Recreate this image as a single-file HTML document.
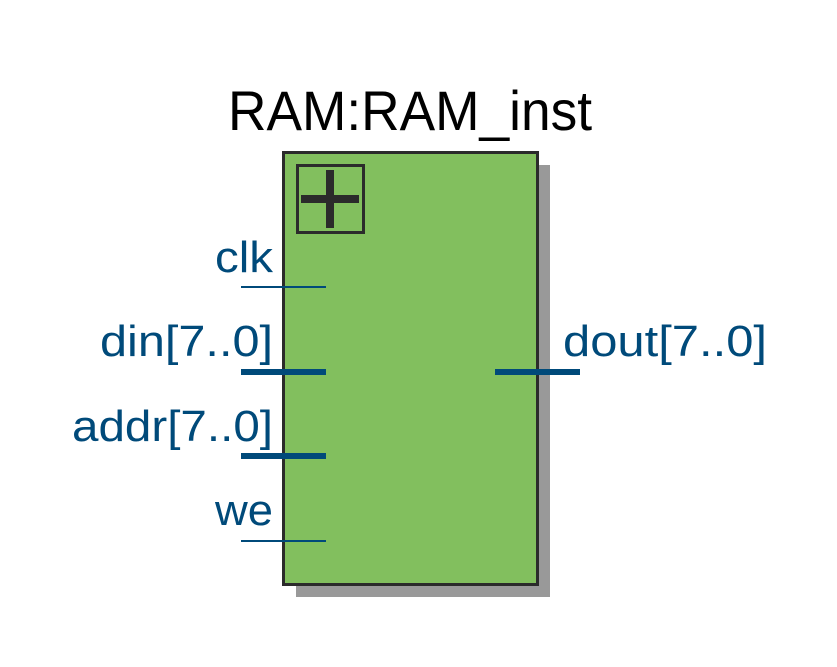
<!DOCTYPE html>
<html><head><meta charset="utf-8"><style>html,body{margin:0;padding:0;background:#fff;}svg{display:block}</style></head>
<body>
<svg width="837" height="667" viewBox="0 0 837 667" xmlns="http://www.w3.org/2000/svg">
<rect x="296" y="165" width="254" height="432" fill="#999999"/>
<rect x="283.5" y="152.5" width="254" height="432" fill="#82bf5e" stroke="#2b2b2b" stroke-width="3"/>
<rect x="297.5" y="165.5" width="66" height="67" fill="none" stroke="#2b2b2b" stroke-width="3"/>
<rect x="301" y="195" width="58" height="8" fill="#2b2b2b"/>
<rect x="326" y="170" width="8" height="58" fill="#2b2b2b"/>
<text x="410" y="130" font-family="Liberation Sans, sans-serif" font-size="56" text-anchor="middle" textLength="364" lengthAdjust="spacingAndGlyphs" fill="#000">RAM:RAM_inst</text>
<g font-family="Liberation Sans, sans-serif" font-size="44" fill="#004a7a" text-anchor="end">
<text x="273" y="272" textLength="58" lengthAdjust="spacingAndGlyphs">clk</text>
<text x="273" y="356" textLength="173" lengthAdjust="spacingAndGlyphs">din[7..0]</text>
<text x="273" y="441" textLength="201" lengthAdjust="spacingAndGlyphs">addr[7..0]</text>
<text x="273" y="525" textLength="58" lengthAdjust="spacingAndGlyphs">we</text>
</g>
<text x="563" y="356" font-family="Liberation Sans, sans-serif" font-size="44" fill="#004a7a" textLength="204" lengthAdjust="spacingAndGlyphs">dout[7..0]</text>
<g fill="#004a7a">
<rect x="241" y="286" width="85" height="2"/>
<rect x="241" y="369" width="85" height="6"/>
<rect x="241" y="453" width="85" height="6"/>
<rect x="241" y="540" width="85" height="2"/>
<rect x="495" y="369" width="85" height="6"/>
</g>
</svg>
</body></html>
